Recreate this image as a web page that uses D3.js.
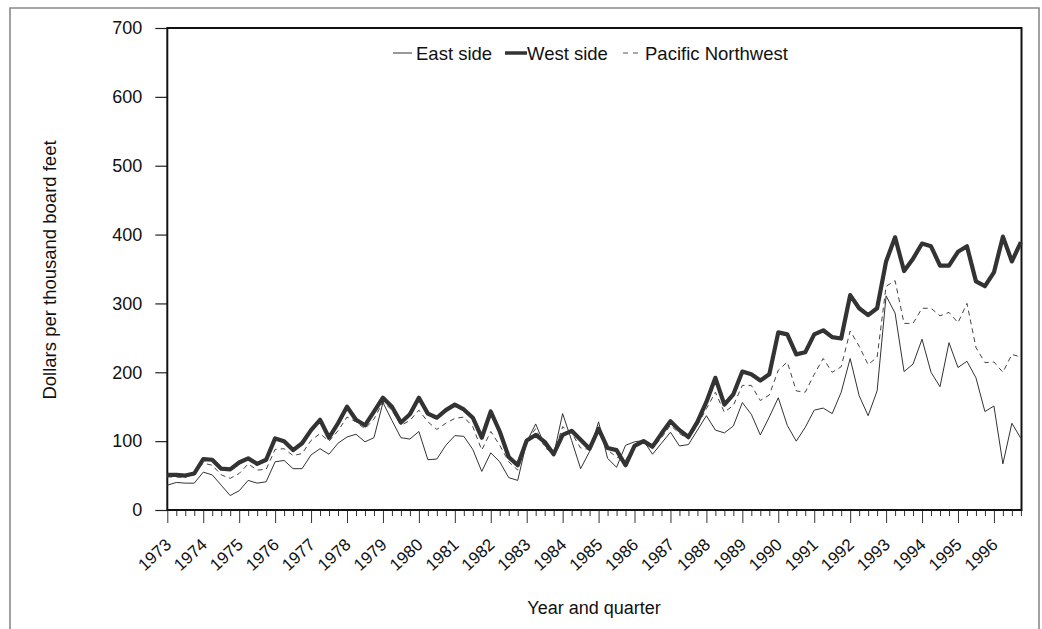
<!DOCTYPE html>
<html>
<head>
<meta charset="utf-8">
<script src="https://cdn.jsdelivr.net/npm/d3@7"></script>
<style>
  html, body { margin: 0; padding: 0; background: #fff; }
  svg { display: block; font-family: "Liberation Sans", Arial, Helvetica, sans-serif; }
</style>
</head>
<body>
<svg id="chart" width="1042" height="629"></svg>
<script>
// ---- data ----
const years = d3.range(1973, 1997);            // tick labels 1973..1996
const quartersPerYear = 4;
const yTicks = [0, 100, 200, 300, 400, 500, 600, 700];
const seriesNames = ["East side", "West side", "Pacific Northwest"];

const eastSide = [
  36, 40, 39, 39, 55, 51, 36, 21, 28, 43, 39, 41,
  70, 72, 60, 60, 80, 89, 81, 97, 106, 110, 99, 105,
  156, 130, 105, 103, 114, 73, 74, 94, 108, 107, 88, 56,
  83, 70, 47, 43, 99, 125, 94, 80, 140, 101, 60, 85,
  128, 75, 62, 94, 99, 101, 81, 97, 113, 93, 95, 116,
  137, 116, 112, 122, 156, 139, 109, 135, 163, 123, 100, 120,
  145, 148, 140, 171, 220, 166, 137, 173, 311, 286, 201, 212,
  248, 200, 179, 243, 207, 216, 192, 143, 151, 67, 126, 104
];
const westSide = [
  51, 51, 50, 53, 74, 73, 60, 59, 69, 75, 67, 73,
  104, 100, 87, 97, 116, 131, 105, 126, 150, 131, 123, 143,
  163, 150, 127, 139, 163, 140, 134, 145, 153, 146, 134, 105,
  143, 114, 77, 65, 101, 109, 99, 81, 109, 115, 102, 89,
  118, 90, 87, 65, 93, 100, 92, 111, 129, 116, 106, 128,
  157, 192, 153, 168, 201, 197, 188, 197, 258, 255, 226, 229,
  255, 261, 251, 249, 312, 293, 283, 293, 361, 396, 347, 365,
  387, 383, 355, 355, 375, 383, 332, 325, 345, 397, 361, 389
];
const pacificNW = [
  48, 48, 47, 55, 68, 65, 51, 46, 53, 67, 58, 59,
  88, 89, 79, 82, 101, 111, 100, 115, 135, 128, 118, 132,
  157, 145, 123, 130, 145, 128, 117, 126, 133, 135, 121, 87,
  114, 94, 70, 58, 101, 118, 91, 81, 121, 112, 90, 88,
  119, 87, 77, 72, 94, 100, 89, 105, 123, 111, 103, 123,
  147, 171, 142, 152, 181, 181, 159, 167, 203, 215, 173, 171,
  197, 220, 200, 208, 260, 238, 211, 222, 325, 333, 271, 271,
  293, 293, 282, 287, 272, 300, 236, 214, 215, 200, 226, 222
];

// ---- layout ----
const svg = d3.select("#chart");
const plotL = 167.3, plotR = 1021.5, plotT = 28, plotB = 510;
const nQ = years.length * quartersPerYear;

const x = d3.scaleLinear().domain([0, nQ - 1]).range([plotL, plotL + (nQ - 1) * 8.985]);
const y = d3.scaleLinear().domain([0, 700]).range([plotB, plotT]);

// outer border
svg.append("path")
  .attr("d", "M10,640 L10,8 L1039,8 L1039,640")
  .attr("fill", "none").attr("stroke", "#8a8a8a").attr("stroke-width", 1.6);

// y axis ticks and labels
const yAxis = d3.axisLeft(y).tickValues(yTicks).tickSize(12).tickPadding(13).tickFormat(d3.format("d"));
const gy = svg.append("g").attr("transform", `translate(${plotL},0)`).call(yAxis);
gy.select(".domain").remove();
gy.selectAll(".tick line").attr("stroke", "#222").attr("stroke-width", 1.2);
gy.selectAll(".tick text").attr("font-size", 18).attr("fill", "#111")
  .attr("font-family", "Liberation Sans, Arial, sans-serif");

// x axis quarter ticks
const qIdx = d3.range(nQ);
const xAxis = d3.axisBottom(x).tickValues(qIdx).tickSize(6).tickFormat("");
const gx = svg.append("g").attr("transform", `translate(0,${plotB})`).call(xAxis);
gx.select(".domain").remove();
gx.selectAll(".tick line")
  .attr("y2", d => d % quartersPerYear === 0 ? 13 : 6)
  .attr("stroke", "#333").attr("stroke-width", 1);

// year labels (rotated)
svg.append("g").selectAll("text").data(years).join("text")
  .attr("transform", (d, i) => `translate(${x(i * quartersPerYear) + 5},546) rotate(-43)`)
  .attr("text-anchor", "end")
  .attr("font-size", 17)
  .attr("fill", "#111")
  .text(d => d);

// plot frame
svg.append("rect")
  .attr("x", plotL).attr("y", plotT)
  .attr("width", plotR - plotL).attr("height", plotB - plotT)
  .attr("fill", "none").attr("stroke", "#111").attr("stroke-width", 2);

// lines
const line = d3.line().x((d, i) => x(i)).y(d => y(d));
svg.append("path").datum(pacificNW).attr("d", line)
  .attr("fill", "none").attr("stroke", "#444").attr("stroke-width", 1)
  .attr("stroke-dasharray", "5,4");
svg.append("path").datum(eastSide).attr("d", line)
  .attr("fill", "none").attr("stroke", "#333").attr("stroke-width", 1);
svg.append("path").datum(westSide).attr("d", line)
  .attr("fill", "none").attr("stroke", "#333").attr("stroke-width", 4.2)
  .attr("stroke-linejoin", "round");

// legend
const legend = [
  { name: seriesNames[0], x1: 393, x2: 412, tx: 416, w: 1, dash: null, c: "#333" },
  { name: seriesNames[1], x1: 505, x2: 527, tx: 527, w: 3.5, dash: null, c: "#333" },
  { name: seriesNames[2], x1: 623, x2: 639, tx: 645, w: 1, dash: "5,5", c: "#555" }
];
const lg = svg.append("g");
legend.forEach(l => {
  lg.append("line").attr("x1", l.x1).attr("x2", l.x2).attr("y1", 53).attr("y2", 53)
    .attr("stroke", l.c).attr("stroke-width", l.w)
    .attr("stroke-dasharray", l.dash);
  lg.append("text").attr("x", l.tx).attr("y", 59.5)
    .attr("font-size", 18.5).attr("fill", "#111").text(l.name);
});

// axis titles
svg.append("text")
  .attr("transform", "translate(56,270) rotate(-90)")
  .attr("text-anchor", "middle").attr("font-size", 18.5).attr("fill", "#111")
  .text("Dollars per thousand board feet");
svg.append("text")
  .attr("x", 594).attr("y", 614)
  .attr("text-anchor", "middle").attr("font-size", 18).attr("fill", "#111")
  .text("Year and quarter");
</script>
</body>
</html>
